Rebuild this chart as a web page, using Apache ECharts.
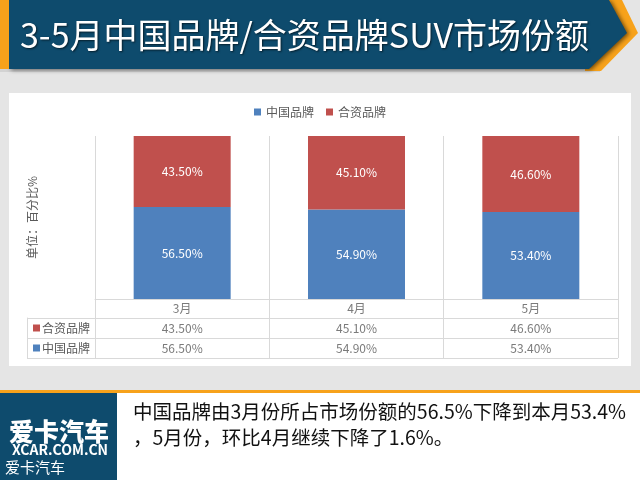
<!DOCTYPE html>
<html>
<head>
<meta charset="utf-8">
<script src="https://cdn.jsdelivr.net/npm/echarts@6/dist/echarts.min.js"></script>
<style>
html,body{margin:0;padding:0;background:#e5e5e5;}
#chart{width:640px;height:480px;}
</style>
</head>
<body>
<div id="chart"></div>
<script>
const titleText = '3-5月中国品牌/合资品牌SUV市场份额';
const categories = ['3月', '4月', '5月'];
const seriesNames = ['中国品牌', '合资品牌'];
const chinaShare = [56.5, 54.9, 53.4];
const jvShare = [43.5, 45.1, 46.6];
const tableRows = ['', '合资品牌', '中国品牌'];
const tableLegendRows = ['合资品牌', '中国品牌'];
const yAxisName = '单位：百分比%';
const noteLines = ['中国品牌由3月份所占市场份额的56.5%下降到本月53.4%', '，5月份，环比4月继续下降了1.6%。'];
const logoBig = '爱卡汽车';
const logoSite = 'XCAR.COM.CN';
const logoSmall = '爱卡汽车';

const palette = {'中国品牌': '#4f81bd', '合资品牌': '#c0504d'};
const FONT = '"Noto Sans CJK SC", "Noto Sans", sans-serif';
const TXT = '#595959';
const LINE = '#d9d9d9';

const pct = v => Number(v).toFixed(2) + '%';

const monthLabelData = categories.map((c, i) => [i, 0]);
const tableValueData = [];
categories.forEach((c, i) => {
  tableValueData.push({value: [i, 1], text: pct(jvShare[i])});
  tableValueData.push({value: [i, 2], text: pct(chinaShare[i])});
});

const chart = echarts.init(document.getElementById('chart'), null, {renderer: 'canvas'});
chart.setOption({
  backgroundColor: '#e5e5e5',
  animation: false,
  textStyle: {fontFamily: FONT},
  graphic: [
    {type: 'rect', z: -10, shape: {x: 9, y: 93, width: 622, height: 273}, style: {fill: '#ffffff'}},
    {type: 'rect', z: -10, shape: {x: 0, y: 69, width: 600, height: 3}, style: {fill: 'rgba(0,0,0,0.08)'}},
    {type: 'polygon', z: -9, shape: {points: [[585, 0], [622, 0], [638, 33], [601, 71], [585, 71]]}, style: {fill: '#f7a21b'}},
    {type: 'polygon', z: -8, shape: {points: [[9, 0], [609, 0], [627, 33], [589, 69], [9, 69]]},
      style: {fill: '#0e4b6d', shadowBlur: 4, shadowColor: 'rgba(0,0,0,0.55)', shadowOffsetX: 2, shadowOffsetY: 1}},
    {type: 'rect', z: -7, shape: {x: 0, y: 0, width: 9, height: 69}, style: {fill: '#f7a21b'}},
    {type: 'text', z: 10, x: 20, y: 35, style: {text: titleText, fill: '#ffffff', font: '34px ' + FONT,
      verticalAlign: 'middle', align: 'left', textShadowColor: 'rgba(0,0,0,0.6)', textShadowBlur: 2, textShadowOffsetX: 1, textShadowOffsetY: 1}},
    {type: 'rect', z: -10, shape: {x: 0, y: 390, width: 640, height: 3}, style: {fill: '#f7a21b'}},
    {type: 'rect', z: -10, shape: {x: 0, y: 393, width: 640, height: 87}, style: {fill: '#ffffff'}},
    {type: 'rect', z: -9, shape: {x: 0, y: 393, width: 117, height: 87}, style: {fill: '#0e4b6d'}},
    {type: 'text', z: 10, x: 59, y: 431, style: {text: logoBig, fill: '#ffffff', font: '900 25px ' + FONT, align: 'center', verticalAlign: 'middle'}},
    {type: 'text', z: 10, x: 60, y: 450, style: {text: logoSite, fill: '#ffffff', font: 'bold 14px ' + FONT, align: 'center', verticalAlign: 'middle'}},
    {type: 'text', z: 10, x: 5, y: 467, style: {text: logoSmall, fill: '#ffffff', font: '15px ' + FONT, align: 'left', verticalAlign: 'middle'}},
    {type: 'text', z: 10, x: 133, y: 412, style: {text: noteLines[0], fill: '#111111', font: '19.5px ' + FONT, align: 'left', verticalAlign: 'middle'}},
    {type: 'text', z: 10, x: 133, y: 438, style: {text: noteLines[1], fill: '#111111', font: '19.5px ' + FONT, align: 'left', verticalAlign: 'middle'}}
  ],
  legend: {
    data: seriesNames,
    left: 'center',
    top: 101,
    icon: 'rect',
    itemWidth: 7,
    itemHeight: 7,
    itemGap: 12,
    textStyle: {color: TXT, fontSize: 12, fontFamily: FONT}
  },
  grid: [
    {left: 95, top: 136, width: 523, height: 163},
    {left: 95, top: 299, width: 523, height: 59},
    {left: 27, top: 318, width: 68, height: 40}
  ],
  xAxis: [
    {gridIndex: 0, type: 'category', data: categories,
      axisLine: {show: true, lineStyle: {color: LINE}}, axisTick: {show: false}, axisLabel: {show: false},
      splitLine: {show: true, lineStyle: {color: LINE}}},
    {gridIndex: 1, type: 'category', data: categories,
      axisLine: {show: false}, axisTick: {show: false}, axisLabel: {show: false},
      splitLine: {show: true, lineStyle: {color: LINE}}},
    {gridIndex: 2, type: 'category', data: [''], show: false}
  ],
  yAxis: [
    {gridIndex: 0, type: 'value', min: 0, max: 100,
      axisLine: {show: false}, axisTick: {show: false}, axisLabel: {show: false}, splitLine: {show: false},
      name: yAxisName, nameLocation: 'middle', nameGap: 57, nameRotate: 90,
      nameTextStyle: {color: TXT, fontSize: 12, fontFamily: FONT}},
    {gridIndex: 1, type: 'category', data: tableRows, inverse: true,
      axisLine: {show: false}, axisTick: {show: false}, axisLabel: {show: false},
      splitLine: {show: true, lineStyle: {color: LINE}}},
    {gridIndex: 2, type: 'category', data: tableLegendRows, inverse: true,
      axisLine: {show: true, lineStyle: {color: LINE}}, axisTick: {show: false},
      axisLabel: {inside: true, margin: 6, fontSize: 12, color: TXT, fontFamily: FONT,
        formatter: v => '{' + (v === '中国品牌' ? 'cn' : 'jv') + '| }{t|' + v + '}',
        rich: {
          cn: {width: 7, height: 7, backgroundColor: palette['中国品牌']},
          jv: {width: 7, height: 7, backgroundColor: palette['合资品牌']},
          t: {color: TXT, fontSize: 12, padding: [0, 0, 0, 2], fontFamily: FONT}
        }},
      splitLine: {show: true, lineStyle: {color: LINE}}}
  ],
  series: [
    {name: seriesNames[0], type: 'bar', stack: 'total', xAxisIndex: 0, yAxisIndex: 0, data: chinaShare,
      barWidth: 97, itemStyle: {color: palette['中国品牌']},
      label: {show: true, position: 'inside', color: '#ffffff', fontSize: 12, fontFamily: FONT, formatter: p => pct(p.value)}},
    {name: seriesNames[1], type: 'bar', stack: 'total', xAxisIndex: 0, yAxisIndex: 0, data: jvShare,
      barWidth: 97, itemStyle: {color: palette['合资品牌']},
      label: {show: true, position: 'inside', color: '#ffffff', fontSize: 12, fontFamily: FONT, formatter: p => pct(p.value)}},
    {name: 'monthLabels', type: 'scatter', xAxisIndex: 1, yAxisIndex: 1, data: monthLabelData,
      symbolSize: 1, itemStyle: {color: 'rgba(0,0,0,0)'}, silent: true,
      label: {show: true, position: 'inside', color: TXT, fontSize: 12, fontFamily: FONT, formatter: p => categories[p.data[0]]}},
    {name: 'tableValues', type: 'scatter', xAxisIndex: 1, yAxisIndex: 1, data: tableValueData,
      symbolSize: 1, itemStyle: {color: 'rgba(0,0,0,0)'}, silent: true,
      label: {show: true, position: 'inside', color: TXT, fontSize: 12, fontFamily: FONT, formatter: p => p.data.text}}
  ]
});
</script>
</body>
</html>
